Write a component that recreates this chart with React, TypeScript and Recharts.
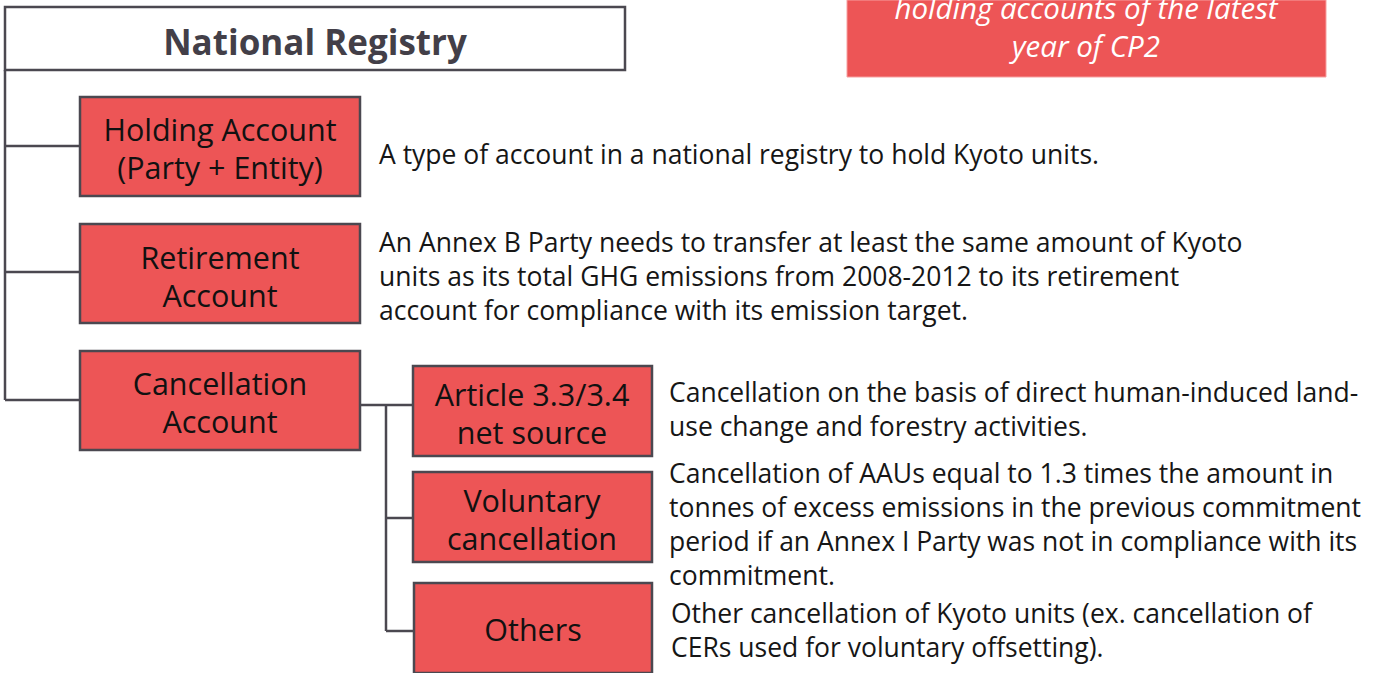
import React from "react";
import {
  ScatterChart,
  Scatter,
  XAxis,
  YAxis,
  ReferenceArea,
  ReferenceLine,
} from "recharts";

const W = 1374;
const H = 673;

// Diagram nodes (boxes): labels and their extents in diagram units
const nodeNames = [
  "National Registry",
  "Holding Account",
  "Retirement Account",
  "Cancellation Account",
  "Article 3.3/3.4",
  "Voluntary cancellation",
  "Others",
  "Note",
];
const nodeX1 = [5, 80, 80, 80, 413, 413, 414, 847];
const nodeX2 = [625, 360, 360, 360, 652, 652, 652, 1326];
const nodeY1 = [7, 97, 224, 351, 366, 472, 583, 0];
const nodeY2 = [70, 196, 323, 450, 456, 562, 673, 77];
const nodeKind = ["root", "red", "red", "red", "red", "red", "red", "note"];

// Connector segments
const connectors = [
  [{ x: 5, y: 70 }, { x: 5, y: 400 }],
  [{ x: 5, y: 146 }, { x: 80, y: 146 }],
  [{ x: 5, y: 272 }, { x: 80, y: 272 }],
  [{ x: 5, y: 400 }, { x: 80, y: 400 }],
  [{ x: 360, y: 405 }, { x: 413, y: 405 }],
  [{ x: 386, y: 405 }, { x: 386, y: 631 }],
  [{ x: 386, y: 518 }, { x: 413, y: 518 }],
  [{ x: 386, y: 631 }, { x: 414, y: 631 }],
];

// Box label texts (centered)
const boxLabels = [
  { x: 315, y: 41, lines: ["National Registry"], kind: "title" },
  { x: 220, y: 148, lines: ["Holding Account", "(Party + Entity)"], kind: "box" },
  { x: 220, y: 276, lines: ["Retirement", "Account"], kind: "box" },
  { x: 220, y: 402, lines: ["Cancellation", "Account"], kind: "box" },
  { x: 532, y: 413, lines: ["Article 3.3/3.4", "net source"], kind: "box" },
  { x: 532, y: 519, lines: ["Voluntary", "cancellation"], kind: "box" },
  { x: 533, y: 629, lines: ["Others"], kind: "box" },
  { x: 1086, y: 26, lines: ["holding accounts of the latest", "year of CP2"], kind: "note" },
];

// Description texts (left aligned)
const descTexts = [
  { x: 379, y: 154, lines: ["A type of account in a national registry to hold Kyoto units."] },
  {
    x: 379,
    y: 276,
    lines: [
      "An Annex B Party needs to transfer at least the same amount of Kyoto",
      "units as its total GHG emissions from 2008-2012 to its retirement",
      "account for compliance with its emission target.",
    ],
  },
  {
    x: 669,
    y: 409,
    lines: [
      "Cancellation on the basis of direct human-induced land-",
      "use change and forestry activities.",
    ],
  },
  {
    x: 669,
    y: 524,
    lines: [
      "Cancellation of AAUs equal to 1.3 times the amount in",
      "tonnes of excess emissions in the previous commitment",
      "period if an Annex I Party was not in compliance with its",
      "commitment.",
    ],
  },
  {
    x: 671,
    y: 630,
    lines: [
      "Other cancellation of Kyoto units (ex. cancellation of",
      "CERs used for voluntary offsetting).",
    ],
  },
];

const FONT = "'Open Sans', 'Noto Sans', sans-serif";
const LINE = "#4b4850";
const RED = "#ED5556";

const renderCentered = (props: any) => {
  const { cx, cy, payload } = props;
  const lines: string[] = payload.lines;
  const kind = payload.kind;
  const fs = kind === "title" ? 35 : kind === "note" ? 29.5 : 30.5;
  const lh = 38;
  const start = cy - ((lines.length - 1) * lh) / 2;
  return (
    <g>
      {lines.map((l, i) => (
        <text
          key={i}
          x={cx}
          y={start + i * lh}
          textAnchor="middle"
          dominantBaseline="central"
          fontFamily={FONT}
          fontSize={fs}
          fontWeight={kind === "title" ? 700 : 400}
          fontStyle={kind === "note" ? "italic" : "normal"}
          fill={kind === "title" ? "#433f48" : kind === "note" ? "#ffffff" : "#111111"}
        >
          {l}
        </text>
      ))}
    </g>
  );
};

const renderLeft = (props: any) => {
  const { cx, cy, payload } = props;
  const lines: string[] = payload.lines;
  const lh = 34;
  const start = cy - ((lines.length - 1) * lh) / 2;
  return (
    <g>
      {lines.map((l, i) => (
        <text
          key={i}
          x={cx}
          y={start + i * lh}
          textAnchor="start"
          dominantBaseline="central"
          fontFamily={FONT}
          fontSize={26.5}
          fill="#161616"
        >
          {l}
        </text>
      ))}
    </g>
  );
};

export default function App() {
  return (
    <div style={{ position: "absolute", left: 0, top: 0, width: W, height: H, background: "#fff" }}>
      <ScatterChart width={W} height={H} margin={{ top: 0, right: 0, bottom: 0, left: 0 }}>
        <XAxis type="number" dataKey="x" domain={[0, W]} hide allowDataOverflow />
        <YAxis type="number" dataKey="y" domain={[0, H]} reversed hide allowDataOverflow />
        {connectors.map((seg, i) => (
          <ReferenceLine
            key={"c" + i}
            segment={seg}
            stroke={LINE}
            strokeWidth={2.5}
            ifOverflow="visible"
          />
        ))}
        {nodeNames.map((n, i) => (
          <ReferenceArea
            key={n}
            x1={nodeX1[i]}
            x2={nodeX2[i]}
            y1={nodeY1[i]}
            y2={nodeY2[i]}
            ifOverflow="visible"
            fill={nodeKind[i] === "root" ? "#ffffff" : RED}
            fillOpacity={1}
            stroke={nodeKind[i] === "note" ? "#f7a0a0" : LINE}
            strokeWidth={nodeKind[i] === "note" ? 1 : 2.5}
          />
        ))}
        <Scatter data={boxLabels} shape={renderCentered} isAnimationActive={false} />
        <Scatter data={descTexts} shape={renderLeft} isAnimationActive={false} />
      </ScatterChart>
    </div>
  );
}
